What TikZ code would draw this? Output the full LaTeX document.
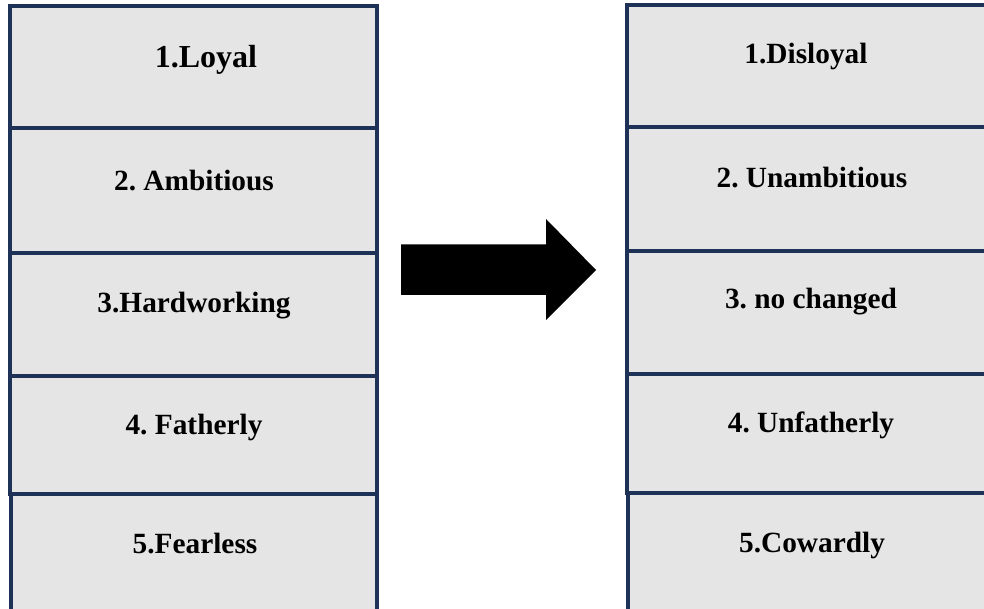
\documentclass[tikz,border=0pt]{standalone}
\usepackage{fontspec}
\setmainfont{Liberation Serif}
\usetikzlibrary{calc}

\definecolor{cellfill}{RGB}{229,229,229}
\definecolor{cellline}{RGB}{30,50,88}
\frenchspacing

\begin{document}
\begin{tikzpicture}[x=0.75pt,y=-0.75pt,
    cell/.style={fill=cellfill,draw=cellline,line width=2.4pt},
    word/.style={anchor=base,inner sep=0pt,font=\bfseries\fontsize{22}{24}\selectfont}]
  \useasboundingbox (0,0) rectangle (984,609);

  % left column: before
  \path[cell] (10,6) rectangle (377,128);
  \path[cell] (10,128) rectangle (377,253);
  \path[cell] (10,253) rectangle (377,376);
  \path[cell] (10,376) rectangle (377,494);
  \path[cell] (11,494) rectangle (377,616);

  \node[word,font=\bfseries\fontsize{24}{26}\selectfont] (L1) at (206,68) {1.Loyal};
  \node[word] (L2) at (194,191) {2. Ambitious};
  \node[word] (L3) at (194,313) {3.Hardworking};
  \node[word] (L4) at (194,434) {4. Fatherly};
  \node[word] (L5) at (195,553) {5.Fearless};

  % right column: after
  \path[cell] (627,5) rectangle (996,127);
  \path[cell] (627,127) rectangle (996,251);
  \path[cell] (627,251) rectangle (996,374);
  \path[cell] (627,374) rectangle (996,493);
  \path[cell] (628,493) rectangle (996,616);

  \node[word] (R1) at (806,64) {1.Disloyal};
  \node[word] (R2) at (812,188) {2. Unambitious};
  \node[word] (R3) at (811,309) {3. no changed};
  \node[word] (R4) at (811,432) {4. Unfatherly};
  \node[word] (R5) at (812,552) {5.Cowardly};

  % block arrow in between
  \coordinate (A) at (401,270);
  \coordinate (T) at (596,270);
  \path[fill=black] ($ (A) + (0,-25.5) $) -- ($ (T) + (-50,-25.5) $) -- ($ (T) + (-50,-51) $)
    -- (T) -- ($ (T) + (-50,50) $) -- ($ (T) + (-50,25) $) -- ($ (A) + (0,25) $) -- cycle;
\end{tikzpicture}
\end{document}
